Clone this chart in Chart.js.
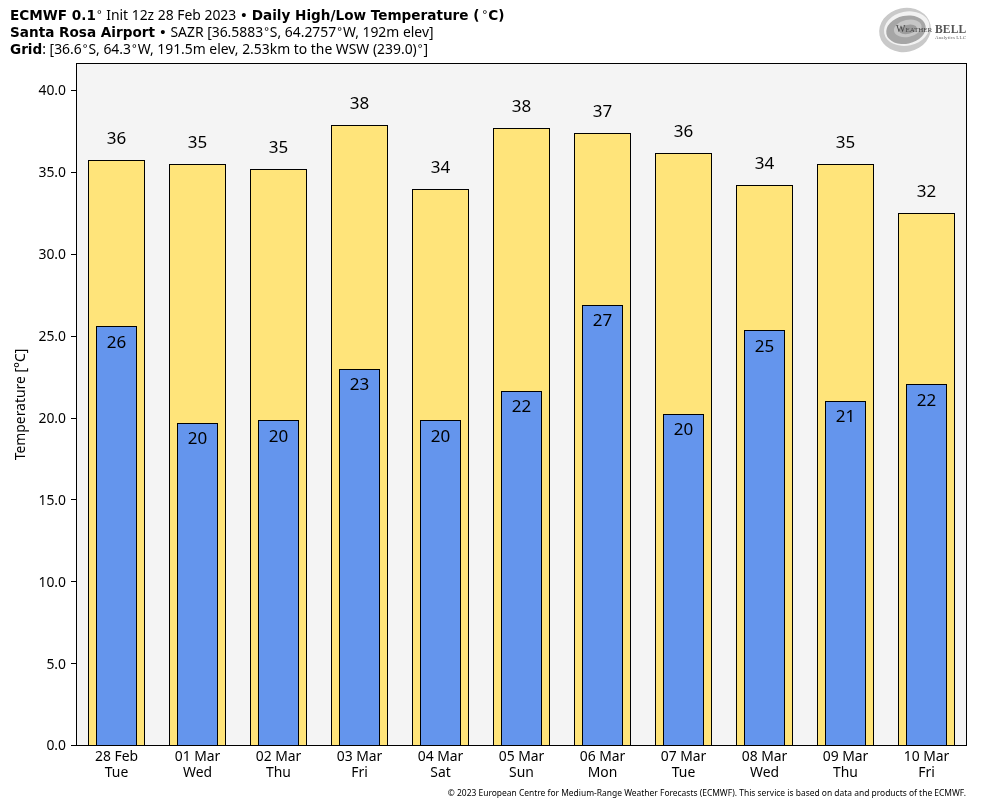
<!DOCTYPE html>
<html>
  <head>
    <title>ECMWF Daily High/Low Temperature</title>
    <style>
      body { margin: 0; background: #fff; }
      #wrap { position: relative; width: 984px; height: 808px; overflow: hidden; }
      canvas { position: absolute; left: 0; top: 0; }
      .head {
        position: absolute; left: 10px; white-space: nowrap; color: #000;
        font: 13.9px "Noto Sans", sans-serif; line-height: 17px;
      }
      .head b { font-family: "DejaVu Sans", sans-serif; font-weight: bold; font-size: 13.6px; }
      .head i { font-family: "DejaVu Sans", sans-serif; font-style: normal; }
      .head u { font: 11px/0 "Noto Sans", sans-serif; text-decoration: none; padding-left: 1px; letter-spacing: 1px; vertical-align: 2.5px; }
      #foot {
        position: absolute; right: 18px; top: 787px; white-space: nowrap; color: #000;
        font: 8.45px "Noto Sans", sans-serif; line-height: 12px;
      }
      #logo { position: absolute; left: 876px; top: 4px; }
    </style>
  </head>

  <body>
    <div id="wrap">
      <canvas id="canvas" width="984" height="808"></canvas>
      <div class="head" style="top: 6px"><b>ECMWF 0.1</b><u>°</u> Init 12z 28 Feb 2023 <i>•</i> <b>Daily High/Low Temperature (</b><u style="padding-left: 3px">°</u><b>C)</b></div>
      <div class="head" style="top: 23px"><b>Santa Rosa Airport</b> <i>•</i> SAZR [36.5883<u>°</u>S, 64.2757<u>°</u>W, 192m elev]</div>
      <div class="head" style="top: 40px"><b>Grid</b>: [36.6<u>°</u>S, 64.3<u>°</u>W, 191.5m elev, 2.53km to the WSW (239.0)<u>°</u>]</div>
      <svg id="logo" width="96" height="52">
        <defs><filter id="soft"><feGaussianBlur stdDeviation="0.6" /></filter></defs>
        <g filter="url(#soft)">
          <g transform="rotate(-12 29 26)">
            <ellipse cx="29" cy="26" rx="26" ry="22" fill="#c9c9c9" />
            <ellipse cx="31" cy="25" rx="23" ry="17" fill="#f2f2f2" />
            <ellipse cx="30" cy="26" rx="20" ry="14" fill="#a6a6a6" />
            <ellipse cx="32" cy="25" rx="14" ry="8.5" fill="#c6c6c6" />
            <ellipse cx="32" cy="26" rx="9" ry="4.5" fill="#9c9c9c" />
          </g>
          <text x="20" y="28" font-family="Liberation Serif" font-size="7" fill="#444"><tspan font-size="10">W</tspan>EATHER</text>
          <text x="59" y="29" font-family="Liberation Serif" font-size="11.5" font-weight="bold" fill="#555" letter-spacing="0.2">BELL</text>
          <text x="59" y="35" font-family="Liberation Serif" font-size="5" fill="#666" textLength="31">Analytics LLC</text>
        </g>
      </svg>
      <div id="foot">© 2023 European Centre for Medium-Range Weather Forecasts (ECMWF). This service is based on data and products of the ECMWF.</div>
    </div>

    <script src="https://cdn.jsdelivr.net/npm/chart.js@4/dist/chart.umd.min.js"></script>
    <script>
      const dates = ["28 Feb", "01 Mar", "02 Mar", "03 Mar", "04 Mar", "05 Mar", "06 Mar", "07 Mar", "08 Mar", "09 Mar", "10 Mar"];
      const days = ["Tue", "Wed", "Thu", "Fri", "Sat", "Sun", "Mon", "Tue", "Wed", "Thu", "Fri"];
      const highs = [35.75, 35.49, 35.2, 37.9, 34.0, 37.7, 37.4, 36.2, 34.25, 35.49, 32.49];
      const lows = [25.6, 19.7, 19.85, 23.0, 19.85, 21.65, 26.9, 20.25, 25.35, 21.05, 22.05];

      const FONT = '"Noto Sans", sans-serif';

      // plot background, frame and the number labels on the bars
      const decorations = {
        id: "decorations",
        afterDatasetsUpdate(chart) {
          // keep bar outlines on whole pixels so they stay crisp
          const zero = Math.ceil(chart.scales.y.getPixelForValue(0));
          chart.data.datasets.forEach((d, i) => {
            chart.getDatasetMeta(i).data.forEach((bar) => {
              bar.y = Math.round(bar.y);
              bar.base = zero;
            });
          });
        },
        beforeDraw(chart) {
          // y tick labels sit a pixel below their tick in the original
          const s = chart.scales.y;
          s._labelItems = s._computeLabelItems(chart.chartArea);
          s._labelItems.forEach((item) => { item.textOffset += 1; });
        },
        beforeDatasetsDraw(chart) {
          const a = chart.chartArea, c = chart.ctx;
          c.fillStyle = "#f4f4f4";
          c.fillRect(a.left, a.top, a.width, a.height);
        },
        afterDraw(chart) {
          const a = chart.chartArea, c = chart.ctx;
          const x = chart.scales.x, y = chart.scales.y;
          c.save();
          c.strokeStyle = "#000";
          c.lineWidth = 1;
          c.strokeRect(a.left + 0.5, a.top, a.width - 1, a.height);
          c.fillStyle = "#000";
          c.font = "17px " + FONT;
          c.textAlign = "center";
          c.textBaseline = "middle";
          highs.forEach((v, i) => {
            c.fillText(Math.round(v), x.getPixelForValue(i), y.getPixelForValue(v) - 21);
          });
          lows.forEach((v, i) => {
            c.fillText(Math.round(v), x.getPixelForValue(i), y.getPixelForValue(v) + 16.5);
          });
          c.restore();
        },
      };

      const config = {
        type: "bar",
        data: {
          labels: dates.map((d, i) => [d, days[i]]),
          datasets: [
            { label: "Low", data: lows, order: 1, backgroundColor: "#6495ed", barThickness: 41 },
            { label: "High", data: highs, order: 2, backgroundColor: "#ffe47a", barThickness: 57 },
          ],
        },
        options: {
          responsive: false,
          animation: false,
          devicePixelRatio: 1,
          layout: { padding: { top: 63.5, right: 17, left: 0, bottom: 0 } },
          datasets: { bar: { grouped: false, borderColor: "#000", borderWidth: 1, borderSkipped: false, inflateAmount: 0 } },
          plugins: { legend: { display: false }, tooltip: { enabled: false } },
          scales: {
            x: {
              afterFit(s) { s.height = 62.5; },
              border: { display: false },
              grid: { display: false, drawTicks: false },
              ticks: { color: "#000", font: { family: FONT, size: 13.9, lineHeight: 1.2 }, maxRotation: 0, autoSkip: false, padding: 3 },
            },
            y: {
              min: 0,
              max: 41.65,
              afterFit(s) { s.width = 76; },
              afterBuildTicks(s) { s.ticks = s.ticks.filter((t) => t.value % 5 === 0); },
              border: { display: false },
              grid: { drawOnChartArea: false, color: "#000", tickLength: 5 },
              title: { display: true, text: "Temperature [°C]", color: "#000", font: { family: FONT, size: 13.9 }, padding: { top: 13, bottom: 0 } },
              ticks: { color: "#000", stepSize: 5, font: { family: FONT, size: 13.9 }, padding: 5, callback: (v) => v.toFixed(1) },
            },
          },
        },
        plugins: [decorations],
      };

      const chart = new Chart(document.getElementById("canvas").getContext("2d"), config);
    </script>
  </body>
</html>
